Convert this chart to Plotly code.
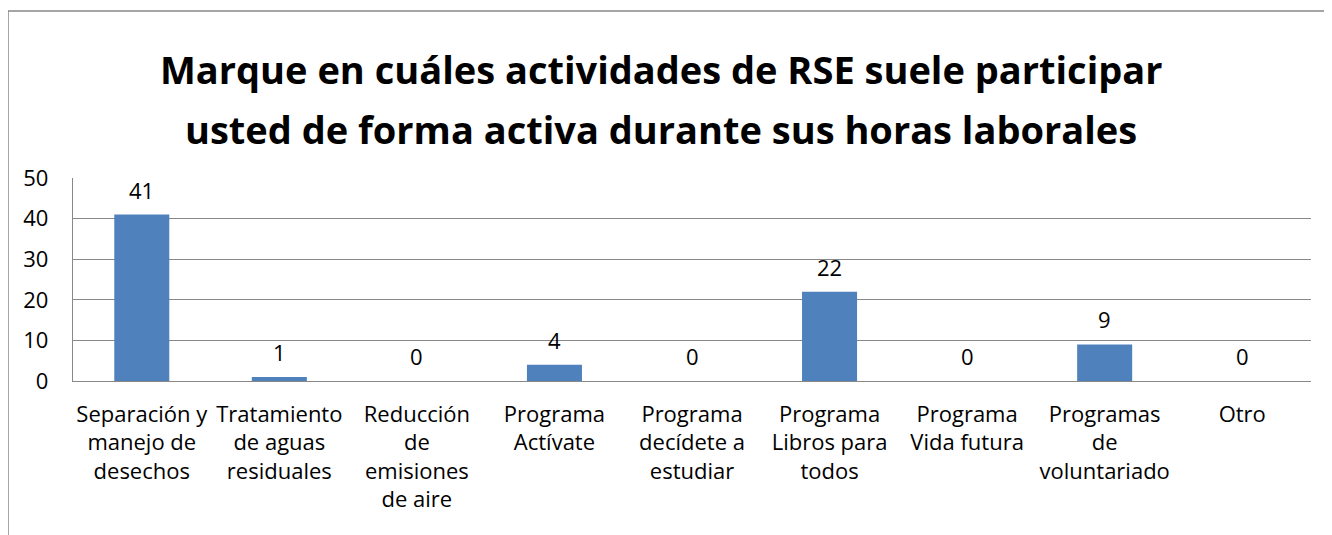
import plotly.graph_objects as go

categories = [
    "Separación y<br>manejo de<br>desechos",
    "Tratamiento<br>de aguas<br>residuales",
    "Reducción<br>de<br>emisiones<br>de aire",
    "Programa<br>Actívate",
    "Programa<br>decídete a<br>estudiar",
    "Programa<br>Libros para<br>todos",
    "Programa<br>Vida futura",
    "Programas<br>de<br>voluntariado",
    "Otro",
]
values = [41, 1, 0, 4, 0, 22, 0, 9, 0]
y_ticks = [0, 10, 20, 30, 40, 50]
title_lines = [
    "Marque en cuáles actividades de RSE suele participar",
    "usted de forma activa durante sus horas laborales",
]

FONT = "Open Sans"
GRID = "#888888"

# page has an 8px body margin; figure sized/positioned to compensate
W, H = 1324, 527
L, T = 65, 170
PW, PH = 1238, 203
R = W - L - PW
B = H - T - PH

fig = go.Figure()
fig.add_trace(go.Bar(
    x=categories, y=values,
    marker=dict(color="#4F81BD", line=dict(width=0)),
    hoverinfo="skip",
))

annotations = []
for c, v in zip(categories, values):
    annotations.append(dict(
        x=c, y=v, xref="x", yref="y", text=str(v), showarrow=False,
        yanchor="bottom", yshift=8, font=dict(family=FONT, size=22, color="black"),
    ))
title_y = [(T + PH - 61) / PH, (T + PH - 121) / PH]
for i, line in enumerate(title_lines):
    annotations.append(dict(
        x=(653 - L) / PW, y=title_y[i], xref="paper", yref="paper", text="<b>%s</b>" % line,
        showarrow=False, xanchor="center", yanchor="middle",
        font=dict(family=FONT, size=38, color="black"),
    ))

fig.update_layout(
    width=W, height=H,
    margin=dict(l=L, r=R, t=T, b=B),
    paper_bgcolor="white", plot_bgcolor="white",
    bargap=0.6,
    showlegend=False,
    annotations=annotations,
    font=dict(family=FONT, size=22, color="black"),
    xaxis=dict(
        showline=True, linecolor=GRID, linewidth=1.3,
        showgrid=False, ticks="", ticklabelstandoff=13,
        tickfont=dict(family=FONT, size=22, color="black"),
        fixedrange=True,
    ),
    yaxis=dict(
        range=[0, 50], tickvals=y_ticks, showline=True, linecolor=GRID, linewidth=1.3,
        showgrid=True, gridcolor=GRID, gridwidth=1.3, zeroline=False,
        ticks="", ticklabelstandoff=19, tickfont=dict(family=FONT, size=22, color="black"),
        fixedrange=True,
    ),
    shapes=[dict(
        type="rect", xref="paper", yref="paper",
        x0=(0 - L) / PW, x1=(W + 10 - L) / PW,
        y0=-(B + 10) / PH, y1=(T + PH - 3) / PH,
        line=dict(color=GRID, width=1.5), fillcolor="rgba(0,0,0,0)", layer="below",
    )],
)

fig.write_html("out.html")
